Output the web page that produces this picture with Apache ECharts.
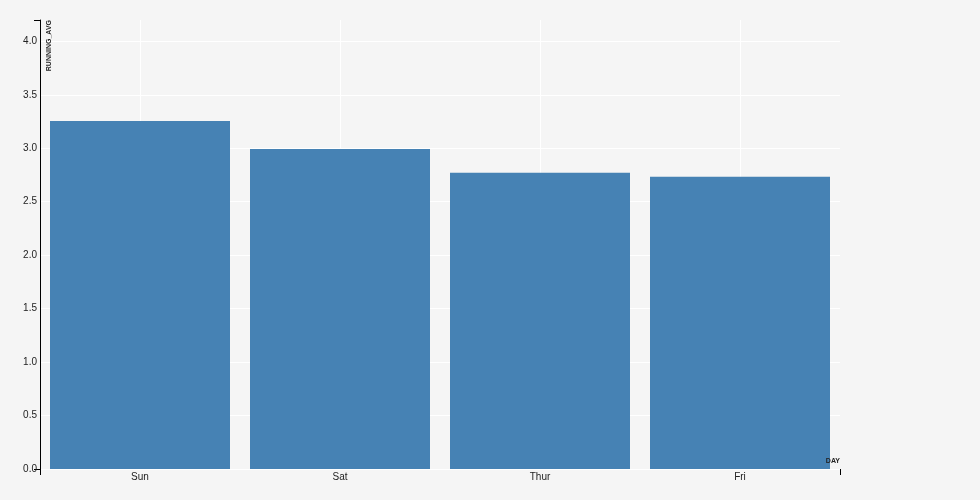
<!DOCTYPE html>
<html>
<head>
<meta charset="utf-8">
<script src="https://cdn.jsdelivr.net/npm/echarts@6/dist/echarts.min.js"></script>
<style>
html,body{margin:0;padding:0;background:#f5f5f5;}
#c{width:980px;height:500px;}
</style>
</head>
<body>
<div id="c"></div>
<script>
const categories = ['Sun', 'Sat', 'Thur', 'Fri'];
const runningAvg = [3.255, 2.993, 2.771, 2.734];
const yTicks = [0, 0.5, 1, 1.5, 2, 2.5, 3, 3.5, 4];
const categoryCenters = [0, 2, 4, 6];

const chart = echarts.init(document.getElementById('c'), null, {renderer: 'canvas'});
const font = 'Arial, "Liberation Sans", Helvetica, sans-serif';
chart.setOption({
  backgroundColor: '#f5f5f5',
  animation: false,
  grid: {left: 40, right: 140, top: 20, bottom: 31, containLabel: false},
  xAxis: [{
    type: 'category',
    data: categories,
    name: 'DAY',
    nameLocation: 'end',
    nameGap: 0,
    z: 10,
    nameTextStyle: {fontFamily: font, fontSize: 7, fontWeight: 'bold', color: '#222', align: 'right', verticalAlign: 'bottom', padding: [0, 0, 4, 0]},
    axisLine: {show: false},
    axisTick: {show: false},
    splitLine: {show: false},
    axisLabel: {fontFamily: font, fontSize: 10, color: '#222', margin: 3}
  }, {
    type: 'value',
    position: 'bottom',
    min: -1, max: 7,
    axisLine: {show: false, onZero: false},
    axisLabel: {show: false, customValues: categoryCenters},
    axisTick: {show: false, customValues: categoryCenters},
    splitLine: {show: true, lineStyle: {color: '#ffffff', width: 1}}
  }, {
    type: 'value',
    position: 'bottom',
    offset: 0,
    min: -1, max: 7, interval: 8,
    axisLine: {show: false, onZero: false},
    axisLabel: {show: false},
    axisTick: {show: true, length: 6, lineStyle: {color: '#000', width: 1}},
    splitLine: {show: false}
  }],
  yAxis: [{
    type: 'value',
    min: 0, max: 4.2, interval: 0.5,
    name: 'RUNNING_AVG',
    nameLocation: 'end',
    nameGap: 0,
    nameRotate: 90,
    nameTextStyle: {fontFamily: font, fontSize: 7, fontWeight: 'bold', color: '#222', align: 'right', verticalAlign: 'top', padding: [6, 0, 0, 0]},
    axisLine: {show: true, onZero: false, lineStyle: {color: '#000', width: 1}},
    axisTick: {show: false},
    axisLabel: {fontFamily: font, fontSize: 10, color: '#222', margin: 3, showMaxLabel: false,
      formatter: v => yTicks.indexOf(v) >= 0 ? v.toFixed(1) : ''},
    splitLine: {show: true, showMaxLine: false, lineStyle: {color: '#ffffff', width: 1}}
  }, {
    type: 'value',
    position: 'left',
    offset: 0,
    min: 0, max: 4.2, interval: 4.2,
    axisLine: {show: false, onZero: false},
    axisLabel: {show: false},
    axisTick: {show: true, length: 6, lineStyle: {color: '#000', width: 1}},
    splitLine: {show: false}
  }],
  series: [{
    type: 'bar',
    data: runningAvg,
    xAxisIndex: 0,
    yAxisIndex: 0,
    barCategoryGap: '10%',
    itemStyle: {color: '#4682b4'},
    z: 2
  }]
});
</script>
</body>
</html>
